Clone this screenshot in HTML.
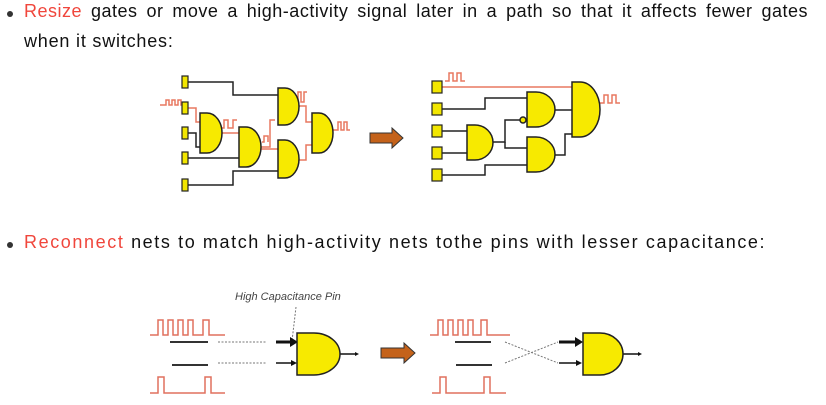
<!DOCTYPE html>
<html><head><meta charset="utf-8"><style>
body{margin:0;width:826px;height:405px;background:#fff;position:relative;overflow:hidden;font-family:"Liberation Sans",sans-serif;color:#111}
.t{position:absolute;font-size:18px}
.r{color:#f0463c}
.dot{position:absolute;width:6px;height:6px;border-radius:50%;background:#333}
</style></head><body>
<div class="dot" style="left:7px;top:11px"></div>
<div class="t" style="left:24px;top:1px;width:784px;text-align:justify;text-align-last:justify;letter-spacing:0.5px"><span class="r">Resize</span> gates or move a high-activity signal later in a path so that it affects fewer gates</div>
<div class="t" style="left:24px;top:31px;letter-spacing:0.8px">when it switches:</div>
<div class="dot" style="left:7px;top:242px"></div>
<div class="t" style="left:24px;top:232px;letter-spacing:1.6px"><span class="r">Reconnect</span> nets to match high-activity nets tothe pins with lesser capacitance:</div>
<svg width="826" height="405" style="position:absolute;left:0;top:0" xmlns="http://www.w3.org/2000/svg">
<g fill="none" stroke-width="1.5">
<g stroke="#222">
<path d="M188 82H233V95H280"/>
<path d="M188 133H196V147H202"/>
<path d="M188 158H241"/>
<path d="M188 185H233V171H280"/>
</g>
<g stroke="#e87860">
<path d="M160 105H166V100H169V105H172V100H175V105H178V100H181V105H184"/>
<path d="M188 108H196V122H202"/>
<path d="M222 133H241"/>
<path d="M260 147H270V120H275"/>
<path d="M260 149H280"/>
<path d="M298 106H306V122H314"/>
<path d="M298 160H306V145H314"/>
<path d="M222 128H224V120H228V128H233V120H237"/>
<path d="M296 102H298V92H301V102H304V92H307"/>
<path d="M332 130H338V122H341V130H344V122H347V130H350"/>
<path d="M262 142H264V136H268V142"/>
</g>
<g stroke="#222">
<path d="M442 109H485V98H529"/>
<path d="M442 131H469"/>
<path d="M442 153H469"/>
<path d="M442 175H485V165H529"/>
<path d="M493 142H505V120H521"/>
<path d="M505 142V148H529"/>
<path d="M555 110H574"/>
<path d="M555 155H565V134H574"/>
</g>
<g stroke="#e87860">
<path d="M442 87H574"/>
<path d="M445 81H449V73H453V81H457V73H461V81H465"/>
<path d="M600 103H604V95H608V103H612V95H616V103H620"/>
</g>
</g>
<g fill="#f2e600" stroke="#222" stroke-width="1.2">
<rect x="182" y="76" width="6" height="12"/><rect x="182" y="102" width="6" height="12"/><rect x="182" y="127" width="6" height="12"/><rect x="182" y="152" width="6" height="12"/><rect x="182" y="179" width="6" height="12"/>
<rect x="432" y="81" width="10" height="12"/><rect x="432" y="103" width="10" height="12"/><rect x="432" y="125" width="10" height="12"/><rect x="432" y="147" width="10" height="12"/><rect x="432" y="169" width="10" height="12"/>
</g>
<g fill="#f7ea00" stroke="#222" stroke-width="1.5">
<path d="M200 113H207A15 20 0 0 1 207 153H200Z"/>
<path d="M239 127H246A15 20 0 0 1 246 167H239Z"/>
<path d="M278 88H285A14 18.5 0 0 1 285 125H278Z"/>
<path d="M278 140H285A14 19 0 0 1 285 178H278Z"/>
<path d="M312 113H319A14 20 0 0 1 319 153H312Z"/>
<path d="M527 92H536A19 17.5 0 0 1 536 127H527Z"/>
<path d="M527 137H536A19 17.5 0 0 1 536 172H527Z"/>
<path d="M467 125H475A18 17.5 0 0 1 475 160H467Z"/>
<path d="M572 82H580A20 27.5 0 0 1 580 137H572Z"/>
<circle cx="523" cy="120" r="3"/>
</g>
<path d="M370 133H392V128L403 138L392 148V143H370Z" fill="#c4621a" stroke="#333" stroke-width="1"/>
<text x="235" y="300" font-size="11" font-style="italic" fill="#444" font-family="Liberation Sans,sans-serif">High Capacitance Pin</text>
<g fill="none" stroke-width="1.5">
<g stroke="#e0705e">
<path d="M150 335H158V320H163V335H168V320H173V335H178V320H183V335H188V320H193V335H203V320H209V335H225"/>
<path d="M150 393H158V377H164V393H205V377H211V393H225"/>
<path d="M430 335H438V320H443V335H448V320H453V335H458V320H463V335H468V320H473V335H481V320H487V335H510"/>
<path d="M432 393H440V377H446V393H484V377H490V393H506"/>
</g>
<g stroke="#333" stroke-width="2">
<path d="M170 342H208M172 365H208M455 342H491M456 365H492"/>
</g>
<g stroke="#777" stroke-dasharray="2 1.5" stroke-width="1">
<path d="M218 342H266M218 363H266M505 342L558 363M505 363L558 342M296 307L292 341"/>
</g>
<g stroke="#111">
<path d="M276 342H294" stroke-width="3"/><path d="M276 363H294"/>
<path d="M559 342H578" stroke-width="3"/><path d="M559 363H578"/>
<path d="M340 354H356M623 354H639"/>
</g>
</g>
<g fill="#111">
<path d="M298 342L290 337V347Z"/><path d="M297 363L291 360V366Z"/>
<path d="M583 342L575 337V347Z"/><path d="M582 363L576 360V366Z"/>
<path d="M359 354L355 352V356Z"/><path d="M642 354L638 352V356Z"/>
</g>
<g fill="#f7ea00" stroke="#222" stroke-width="1.5">
<path d="M297 333H314A26 21 0 0 1 314 375H297Z"/>
<path d="M583 333H600A23 21 0 0 1 600 375H583Z"/>
</g>
<path d="M381 348H404V343L415 353L404 363V358H381Z" fill="#c4621a" stroke="#333" stroke-width="1"/>
</svg>
</body></html>
